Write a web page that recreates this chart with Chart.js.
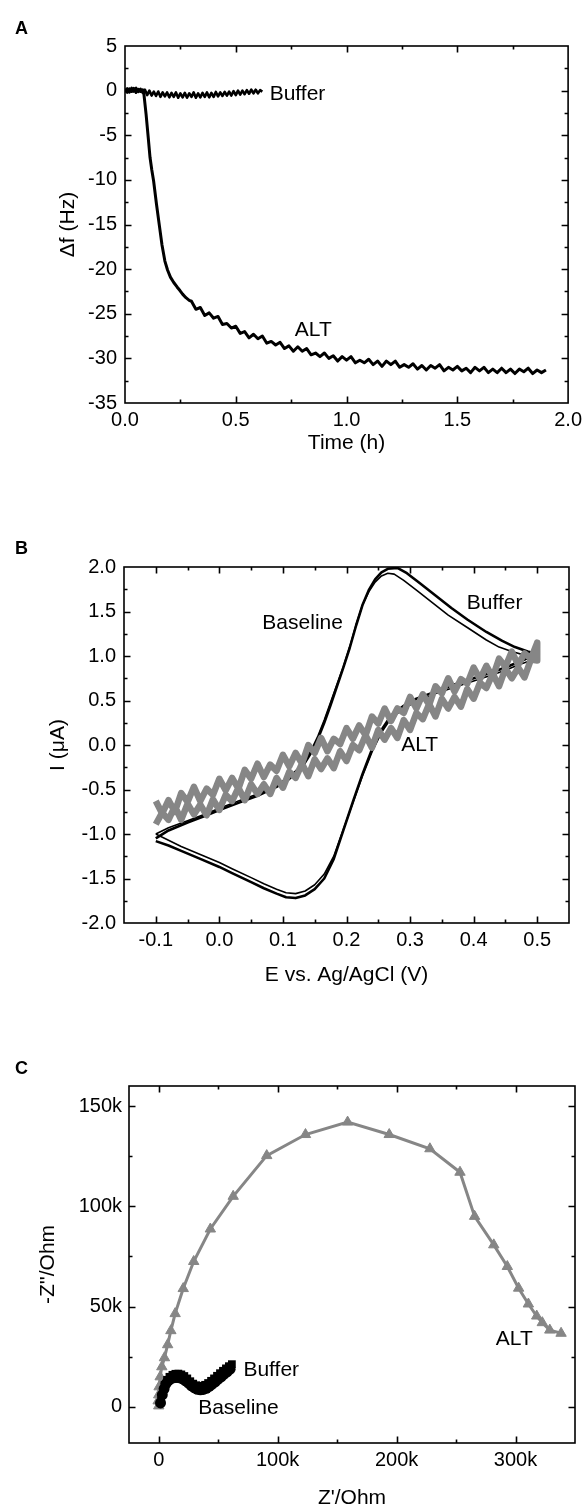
<!DOCTYPE html>
<html>
<head>
<meta charset="utf-8">
<script src="https://cdn.jsdelivr.net/npm/chart.js@4.4.1/dist/chart.umd.min.js"></script>
<style>
  body { margin: 0; background: #fff; }
  #page { position: relative; width: 587px; height: 1511px; overflow: hidden; }
  canvas { position: absolute; left: 0; }
  .tag { position: absolute; left: 15px; font: bold 18px "Liberation Sans", Arial, sans-serif; line-height: 18px; color: #000; }
</style>
</head>
<body>
<div id="page">
  <canvas id="chartA" width="587" height="470" style="top:0px"></canvas>
  <canvas id="chartB" width="587" height="510" style="top:490px"></canvas>
  <canvas id="chartC" width="587" height="501" style="top:1010px"></canvas>
  <div class="tag" style="top:19px">A</div>
  <div class="tag" style="top:539px">B</div>
  <div class="tag" style="top:1059px">C</div>
</div>
<script>
// ---- Panel A: QCM frequency shift vs time ----
const qcmTicksX = [0, 0.5, 1.0, 1.5, 2.0];
const qcmTicksY = [-35, -30, -25, -20, -15, -10, -5, 0, 5];

// [time (h), delta f (Hz)]
const qcmBuffer = [
    [0.00, 0.0], [0.01, 0.25], [0.02, -0.2], [0.03, 0.3], [0.04, -0.1], [0.05, 0.3], [0.06, -0.15],
    [0.07, 0.2], [0.08, -0.25], [0.09, 0.1], [0.10, -0.5], [0.11, 0.0], [0.12, -0.55], [0.13, -0.1],
    [0.14, -0.6], [0.15, -0.1], [0.16, -0.7], [0.17, -0.2], [0.18, -0.65], [0.19, -0.2], [0.20, -0.75],
    [0.21, -0.25], [0.22, -0.7], [0.23, -0.2], [0.24, -0.8], [0.25, -0.3], [0.26, -0.75], [0.27, -0.25],
    [0.28, -0.8], [0.29, -0.3], [0.30, -0.7], [0.31, -0.2], [0.32, -0.8], [0.33, -0.3], [0.34, -0.75],
    [0.35, -0.25], [0.36, -0.7], [0.37, -0.2], [0.38, -0.75], [0.39, -0.25], [0.40, -0.7], [0.41, -0.15],
    [0.42, -0.65], [0.43, -0.2], [0.44, -0.6], [0.45, -0.15], [0.46, -0.55], [0.47, -0.1], [0.48, -0.55],
    [0.49, -0.05], [0.50, -0.5], [0.51, 0.0], [0.52, -0.45], [0.53, 0.0], [0.54, -0.4], [0.55, 0.05],
    [0.56, -0.35], [0.57, 0.1], [0.58, -0.3], [0.59, 0.1], [0.60, -0.3], [0.61, 0.05], [0.62, -0.1]
];

const qcmAlt = [
    [0.00, 0.1], [0.01, -0.2], [0.02, 0.2], [0.03, -0.1], [0.04, 0.25], [0.05, -0.2], [0.06, 0.15],
    [0.07, -0.1], [0.08, 0.1], [0.085, -0.3], [0.095, -2.6], [0.105, -5.3], [0.113, -7.5], [0.121, -8.9],
    [0.129, -10.1], [0.142, -12.7], [0.155, -15.1], [0.167, -17.3], [0.18, -19.1], [0.192, -20.1],
    [0.205, -20.9], [0.22, -21.5], [0.235, -22.0], [0.248, -22.4], [0.26, -22.8], [0.275, -23.2], [0.29, -23.5],
    [0.30, -23.6], [0.32, -24.5], [0.34, -24.3], [0.36, -25.2], [0.38, -24.9], [0.40, -25.5], [0.42, -25.3],
    [0.44, -26.2], [0.46, -26.1], [0.48, -26.6], [0.50, -26.4], [0.52, -27.2], [0.54, -27.0], [0.56, -27.7],
    [0.58, -27.3], [0.60, -27.8], [0.62, -27.5], [0.64, -28.3], [0.66, -28.1], [0.68, -28.5], [0.70, -28.2],
    [0.72, -28.9], [0.74, -28.6], [0.76, -29.2], [0.78, -28.7], [0.80, -29.2], [0.82, -28.9], [0.84, -29.6],
    [0.86, -29.4], [0.88, -29.8], [0.90, -29.4], [0.92, -30.0], [0.94, -29.7], [0.96, -30.3], [0.98, -29.8],
    [1.00, -30.2], [1.02, -29.8], [1.04, -30.5], [1.06, -30.2], [1.08, -30.5], [1.10, -30.1], [1.12, -30.7],
    [1.14, -30.3], [1.16, -30.9], [1.18, -30.3], [1.20, -30.7], [1.22, -30.3], [1.24, -31.0], [1.26, -30.7],
    [1.28, -31.0], [1.30, -30.6], [1.32, -31.2], [1.34, -30.8], [1.36, -31.3], [1.38, -30.8], [1.40, -31.1],
    [1.42, -30.7], [1.44, -31.4], [1.46, -31.0], [1.48, -31.3], [1.50, -30.9], [1.52, -31.4], [1.54, -31.1],
    [1.56, -31.6], [1.58, -31.0], [1.60, -31.4], [1.62, -31.0], [1.64, -31.6], [1.66, -31.2], [1.68, -31.6],
    [1.70, -31.1], [1.72, -31.6], [1.74, -31.2], [1.76, -31.7], [1.78, -31.2], [1.80, -31.5], [1.82, -31.1],
    [1.84, -31.7], [1.86, -31.3], [1.88, -31.6], [1.90, -31.3]
];

// ---- Panel B: cyclic voltammograms ----
const cvTicksX = [-0.1, 0.0, 0.1, 0.2, 0.3, 0.4, 0.5];
const cvTicksY = [-2.0, -1.5, -1.0, -0.5, 0.0, 0.5, 1.0, 1.5, 2.0];

// [E (V), I (uA)]
const cvBaseline = [
    [-0.1, -1.0], [-0.08, -0.93], [-0.05, -0.85], [-0.02, -0.77], [0.0, -0.71], [0.03, -0.63], [0.06, -0.55],
    [0.09, -0.45], [0.11, -0.36], [0.13, -0.22], [0.145, -0.05], [0.155, 0.1], [0.165, 0.28], [0.175, 0.48],
    [0.185, 0.68], [0.195, 0.88], [0.205, 1.1], [0.215, 1.35], [0.225, 1.57], [0.235, 1.72], [0.245, 1.83],
    [0.255, 1.9], [0.265, 1.93], [0.275, 1.92], [0.29, 1.85], [0.31, 1.74], [0.335, 1.6], [0.36, 1.46],
    [0.39, 1.32], [0.42, 1.18], [0.44, 1.1], [0.46, 1.05], [0.48, 1.01], [0.5, 0.98],
    [0.49, 0.95], [0.47, 0.9], [0.45, 0.84], [0.43, 0.79], [0.40, 0.72], [0.37, 0.65], [0.34, 0.58],
    [0.31, 0.49], [0.29, 0.41], [0.27, 0.3], [0.255, 0.14], [0.24, -0.08], [0.225, -0.35], [0.21, -0.65],
    [0.195, -0.95], [0.18, -1.25], [0.165, -1.45], [0.15, -1.57], [0.135, -1.64], [0.12, -1.67],
    [0.105, -1.66], [0.09, -1.62], [0.07, -1.56], [0.05, -1.49], [0.02, -1.39], [0.0, -1.32],
    [-0.03, -1.23], [-0.06, -1.14], [-0.08, -1.07], [-0.1, -1.0]
];

const cvBuffer = [
    [-0.1, -1.05], [-0.08, -0.96], [-0.05, -0.87], [-0.02, -0.79], [0.0, -0.73], [0.03, -0.65], [0.06, -0.57],
    [0.09, -0.47], [0.11, -0.38], [0.13, -0.25], [0.145, -0.08], [0.155, 0.07], [0.165, 0.25], [0.175, 0.45],
    [0.185, 0.66], [0.195, 0.87], [0.205, 1.09], [0.215, 1.34], [0.225, 1.57], [0.235, 1.74], [0.245, 1.86],
    [0.255, 1.94], [0.265, 1.98], [0.28, 1.99], [0.295, 1.93], [0.315, 1.82], [0.34, 1.68], [0.365, 1.54],
    [0.39, 1.41], [0.42, 1.27], [0.445, 1.17], [0.465, 1.1], [0.485, 1.05], [0.5, 1.02],
    [0.49, 0.99], [0.47, 0.93], [0.45, 0.87], [0.43, 0.82], [0.40, 0.75], [0.37, 0.68], [0.34, 0.6],
    [0.31, 0.52], [0.29, 0.44], [0.27, 0.33], [0.255, 0.17], [0.24, -0.05], [0.225, -0.33], [0.21, -0.64],
    [0.195, -0.96], [0.18, -1.28], [0.165, -1.5], [0.15, -1.62], [0.135, -1.69], [0.12, -1.72],
    [0.105, -1.71], [0.09, -1.67], [0.07, -1.61], [0.05, -1.54], [0.02, -1.44], [0.0, -1.37],
    [-0.03, -1.28], [-0.06, -1.19], [-0.08, -1.13], [-0.1, -1.08]
];

const cvAltForward = [
    [-0.10, -0.63], [-0.09, -0.77], [-0.08, -0.62], [-0.07, -0.75], [-0.06, -0.54], [-0.05, -0.64],
    [-0.04, -0.47], [-0.03, -0.63], [-0.02, -0.49], [-0.01, -0.56], [0.00, -0.38], [0.01, -0.51],
    [0.02, -0.37], [0.03, -0.49], [0.04, -0.28], [0.05, -0.38], [0.06, -0.21], [0.07, -0.36],
    [0.08, -0.22], [0.09, -0.29], [0.10, -0.11], [0.11, -0.24], [0.12, -0.09], [0.13, -0.21],
    [0.14, 0.0], [0.15, -0.09], [0.16, 0.08], [0.17, -0.07], [0.18, 0.07], [0.19, 0.01],
    [0.20, 0.19], [0.21, 0.07], [0.22, 0.22], [0.23, 0.11], [0.24, 0.32], [0.25, 0.24],
    [0.26, 0.41], [0.27, 0.27], [0.28, 0.41], [0.29, 0.36], [0.30, 0.54], [0.31, 0.41],
    [0.32, 0.57], [0.33, 0.45], [0.34, 0.66], [0.35, 0.58], [0.36, 0.75], [0.37, 0.60],
    [0.38, 0.74], [0.39, 0.69], [0.40, 0.87], [0.41, 0.74], [0.42, 0.89], [0.43, 0.76],
    [0.44, 0.97], [0.45, 0.88], [0.46, 1.05], [0.47, 0.90], [0.48, 1.03], [0.49, 0.97], [0.50, 1.15]
];

const cvAltReverse = [
    [0.50, 0.95], [0.49, 0.96], [0.48, 0.76], [0.47, 0.87], [0.46, 0.75], [0.45, 0.86], [0.44, 0.66],
    [0.43, 0.80], [0.42, 0.64], [0.41, 0.70], [0.40, 0.52], [0.39, 0.63], [0.38, 0.43], [0.37, 0.54],
    [0.36, 0.41], [0.35, 0.52], [0.34, 0.32], [0.33, 0.46], [0.32, 0.29], [0.31, 0.36], [0.30, 0.17],
    [0.29, 0.28], [0.28, 0.08], [0.27, 0.19], [0.26, 0.06], [0.25, 0.17], [0.24, -0.03], [0.23, 0.11],
    [0.22, -0.06], [0.21, 0.0], [0.20, -0.18], [0.19, -0.07], [0.18, -0.26], [0.17, -0.15], [0.16, -0.27],
    [0.15, -0.16], [0.14, -0.35], [0.13, -0.21], [0.12, -0.37], [0.11, -0.30], [0.10, -0.48], [0.09, -0.37],
    [0.08, -0.55], [0.07, -0.44], [0.06, -0.55], [0.05, -0.44], [0.04, -0.62], [0.03, -0.48], [0.02, -0.63],
    [0.01, -0.56], [0.00, -0.73], [-0.01, -0.61], [-0.02, -0.79], [-0.03, -0.67], [-0.04, -0.78],
    [-0.05, -0.66], [-0.06, -0.84], [-0.07, -0.69], [-0.08, -0.84], [-0.09, -0.76], [-0.10, -0.89]
];

// ---- Panel C: Nyquist plots (values in kOhm) ----
const nyqTicksX = [0, 100, 200, 300];
const nyqTicksY = [0, 50, 100, 150];

// [Z' (kOhm), -Z'' (kOhm)]
const nyqAlt = [
    [0, 0.5], [-0.5, 3], [0, 6], [0.3, 10], [1.2, 15], [2.6, 20], [4.8, 24.5], [7.5, 31], [10.2, 38],
    [13.8, 46.5], [20.6, 59], [29.4, 72.5], [43.4, 88.7], [62.6, 105], [90.8, 125.3], [123.4, 135.8],
    [158.8, 142], [193.8, 135.8], [228, 128.7], [253.3, 117], [265.6, 95], [281.7, 80.8], [293.1, 70],
    [302.6, 59.2], [310.8, 51.3], [317.8, 45.3], [322.5, 42], [328.8, 38.3], [338.3, 36.7]
];

const nyqBaseline = [
    [1.5, 2], [3, 6], [4.5, 9], [6, 11.5], [8, 13], [10, 14], [12.5, 14.5], [15, 14.7], [17.5, 14.5],
    [20, 14], [22.5, 13], [25, 11.8], [27.5, 10.5], [30, 9.5], [32.5, 8.8], [35, 8.5], [37.5, 8.7],
    [40, 9.3], [42.5, 10.2], [45, 11.3], [47.5, 12.5], [50, 13.8], [52.5, 15], [55, 16.3], [57.5, 17.5],
    [60, 18.8]
];

const nyqBuffer = [
    [2, 3], [3.5, 7.5], [5, 11], [7, 13.5], [9, 15], [11.5, 16], [14, 16.5], [16.5, 16.6], [19, 16.2],
    [21.5, 15.4], [24, 14.2], [26.5, 12.8], [29, 11.6], [31.5, 10.8], [34, 10.4], [36.5, 10.5], [39, 11],
    [41.5, 11.9], [44, 13], [46.5, 14.2], [49, 15.5], [51.5, 16.8], [54, 18], [56.5, 19.2], [59, 20.3],
    [61.5, 21.3]
];

// text labels placed in data units
const qcmNotes = [
    { text: 'Buffer', x: 0.653, y: -0.4, align: 'left' },
    { text: 'ALT', x: 0.85, y: -26.8, align: 'center' }
];
const cvNotes = [
    { text: 'Baseline', x: 0.131, y: 1.37, align: 'center' },
    { text: 'Buffer', x: 0.433, y: 1.595, align: 'center' },
    { text: 'ALT', x: 0.315, y: 0.0, align: 'center' }
];
const nyqNotes = [
    { text: 'ALT', x: 299, y: 34, align: 'center' },
    { text: 'Buffer', x: 94.6, y: 18.3, align: 'center' },
    { text: 'Baseline', x: 67, y: -0.7, align: 'center' }
];

const FONT = '"Liberation Sans", Arial, Helvetica, sans-serif';
const GRAY = '#868686';

// frame + inward major/minor ticks on all four sides
const frameTicks = {
    id: 'frameTicks',
    afterDatasetsDraw(chart) {
        const { ctx, chartArea: a } = chart;
        const sx = chart.scales.x, sy = chart.scales.y;
        ctx.save();
        ctx.strokeStyle = '#000';
        ctx.lineWidth = 1.6;
        ctx.strokeRect(a.left, a.top, a.right - a.left, a.bottom - a.top);
        ctx.beginPath();
        const marks = (scale) => {
            const vals = scale.ticks.map(t => t.value);
            const step = vals[1] - vals[0];
            const out = vals.map(v => [v, 6.5]);
            vals.forEach(v => out.push([v - step / 2, 3.5]));
            out.push([vals[vals.length - 1] + step / 2, 3.5]);
            return out.filter(([v]) => v > scale.min + step * 0.01 && v < scale.max - step * 0.01);
        };
        marks(sx).forEach(([v, len]) => {
            const px = Math.round(sx.getPixelForValue(v)) + 0.5;
            ctx.moveTo(px, a.bottom); ctx.lineTo(px, a.bottom - len);
            ctx.moveTo(px, a.top); ctx.lineTo(px, a.top + len);
        });
        marks(sy).forEach(([v, len]) => {
            const py = Math.round(sy.getPixelForValue(v)) + 0.5;
            ctx.moveTo(a.left, py); ctx.lineTo(a.left + len, py);
            ctx.moveTo(a.right, py); ctx.lineTo(a.right - len, py);
        });
        ctx.stroke();
        ctx.restore();
    }
};

const notes = {
    id: 'notes',
    afterDatasetsDraw(chart, args, opts) {
        const { ctx } = chart;
        ctx.save();
        ctx.fillStyle = '#000';
        ctx.font = '21px ' + FONT;
        ctx.textBaseline = 'middle';
        (opts.items || []).forEach(n => {
            ctx.textAlign = n.align;
            ctx.fillText(n.text, chart.scales.x.getPixelForValue(n.x), chart.scales.y.getPixelForValue(n.y));
        });
        ctx.restore();
    }
};

function xAxis(min, max, tickVals, fmt, title, titleBottom, boxHeight) {
    return {
        type: 'linear', position: 'bottom', min: min, max: max,
        afterBuildTicks: s => { s.ticks = tickVals.map(v => ({ value: v })); },
        afterFit: s => { s.height = boxHeight; },
        grid: { display: false, drawTicks: false },
        border: { display: false },
        ticks: { color: '#000', padding: 5, font: { family: FONT, size: 20 }, maxRotation: 0, autoSkip: false, callback: fmt },
        title: { display: true, text: title, color: '#000', font: { family: FONT, size: 21 }, padding: { top: 0, bottom: titleBottom } }
    };
}

function yAxis(min, max, tickVals, fmt, title, titleLeft, boxWidth, labelPad) {
    return {
        type: 'linear', position: 'left', min: min, max: max,
        afterBuildTicks: s => { s.ticks = tickVals.map(v => ({ value: v })); },
        afterFit: s => { s.width = boxWidth; },
        grid: { display: false, drawTicks: false },
        border: { display: false },
        ticks: { color: '#000', padding: labelPad, font: { family: FONT, size: 20 }, autoSkip: false, callback: fmt },
        title: { display: true, text: title, color: '#000', font: { family: FONT, size: 21 }, padding: { top: titleLeft, bottom: 0 } }
    };
}

function baseOptions(padTop, padRight, scales, items) {
    return {
        responsive: false,
        animation: false,
        devicePixelRatio: 1,
        layout: { padding: { top: padTop, right: padRight, left: 0, bottom: 0 } },
        scales: scales,
        plugins: { legend: { display: false }, tooltip: { enabled: false }, notes: { items: items } }
    };
}

const lineSet = (data, color, width) => ({
    data: data, showLine: true, borderColor: color, borderWidth: width,
    pointRadius: 0, tension: 0, fill: false, borderJoinStyle: 'round'
});

// Panel A
new Chart(document.getElementById('chartA'), {
    type: 'scatter',
    data: {
        datasets: [
            lineSet(qcmBuffer, '#000', 2.6),
            lineSet(qcmAlt, '#000', 3)
        ]
    },
    options: baseOptions(46, 18, {
        x: xAxis(0, 2, qcmTicksX, v => v.toFixed(1), 'Time (h)', 14, 67),
        y: yAxis(-35, 5, qcmTicksY, v => String(v), 'Δf (Hz)', 56, 125, 8)
    }, qcmNotes),
    plugins: [frameTicks, notes]
});

// Panel B
new Chart(document.getElementById('chartB'), {
    type: 'scatter',
    data: {
        datasets: [
            lineSet(cvAltForward.concat(cvAltReverse), GRAY, 6.5),
            lineSet(cvBaseline, '#000', 1.6),
            lineSet(cvBuffer, '#000', 2.6)
        ]
    },
    options: baseOptions(77, 18, {
        x: xAxis(-0.15, 0.55, cvTicksX, v => v.toFixed(1), 'E vs. Ag/AgCl (V)', 12, 77),
        y: yAxis(-2, 2, cvTicksY, v => v.toFixed(1), 'I (μA)', 46, 124, 8)
    }, cvNotes),
    plugins: [frameTicks, notes]
});

// Panel C
new Chart(document.getElementById('chartC'), {
    type: 'scatter',
    data: {
        datasets: [
            { data: nyqBuffer, showLine: false, pointStyle: 'rect', pointRadius: 5.5,
              backgroundColor: '#000', borderColor: '#000', borderWidth: 0 },
            { data: nyqBaseline, showLine: false, pointStyle: 'circle', pointRadius: 5.5,
              backgroundColor: '#000', borderColor: '#000', borderWidth: 0 },
            { data: nyqAlt, showLine: true, borderColor: GRAY, borderWidth: 3, tension: 0,
              pointStyle: 'triangle', pointRadius: 6, backgroundColor: GRAY, pointBorderColor: GRAY, pointBorderWidth: 1 }
        ]
    },
    options: baseOptions(76, 12, {
        x: xAxis(-25, 350, nyqTicksX, v => v === 0 ? '0' : v + 'k', "Z'/Ohm", 0, 68),
        y: yAxis(-18, 160, nyqTicksY, v => v === 0 ? '0' : v + 'k', "-Z''/Ohm", 36, 129, 7)
    }, nyqNotes),
    plugins: [frameTicks, notes]
});
</script>
</body>
</html>
